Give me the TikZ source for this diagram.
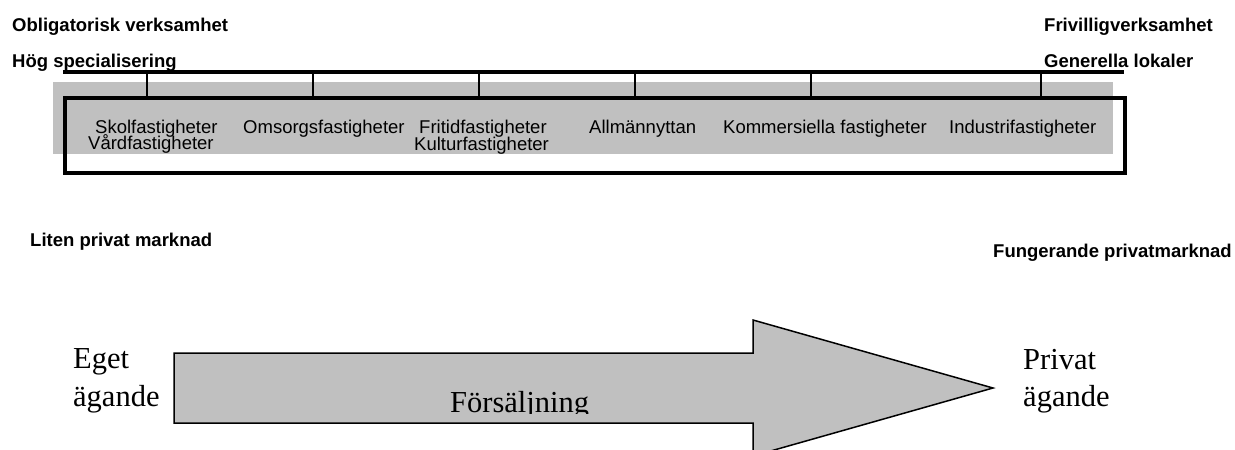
\documentclass[tikz,border=0pt]{standalone}
\usepackage{fontspec}
\setmainfont{Liberation Serif}
\newfontfamily\arialf{Liberation Sans}
\definecolor{bandgray}{RGB}{192,192,192}
\tikzset{
  headlbl/.style={inner sep=0pt, anchor=base west, font=\arialf\bfseries\fontsize{18.5}{20}\selectfont},
  cattxt/.style={inner sep=0pt, anchor=base west, font=\arialf\fontsize{18.5}{20}\selectfont},
  serifl/.style={inner sep=0pt, anchor=base west, font=\fontsize{30.5}{37}\selectfont},
  thickln/.style={line width=4pt, line cap=rect},
  tickln/.style={line width=2pt},
}
\begin{document}
\begin{tikzpicture}[x=1pt,y=-1pt]
\useasboundingbox (0,0) rectangle (1235,450);
\clip (0,0) rectangle (1235,450);
% gray band
\fill[bandgray] (53,82) rectangle (1113,154);
% labels in band
\node[cattxt] (skol) at (95,133) {Skolfastigheter};
\node[cattxt] (vard) at (88,149) {Vårdfastigheter};
\node[cattxt] (omsorg) at (243,133) {Omsorgsfastigheter};
\node[cattxt] (fritid) at (419,133) {Fritidfastigheter};
\node[cattxt] (kultur) at (414,150) {Kulturfastigheter};
\node[cattxt] (allm) at (589,133) {Allmännyttan};
\node[cattxt] (komm) at (723,133) {Kommersiella fastigheter};
\node[cattxt] (indu) at (949,133) {Industrifastigheter};
% header labels
\node[headlbl] (oblig) at (12,31) {Obligatorisk verksamhet};
\node[headlbl] (hog) at (12,67) {Hög specialisering};
\node[headlbl] (friv) at (1044,31) {Frivilligverksamhet};
\node[headlbl] (gen) at (1044,67) {Generella lokaler};
\node[headlbl] (liten) at (30,246) {Liten privat marknad};
\node[headlbl] (fung) at (993,257) {Fungerande privatmarknad};
% box and scale line
\draw[thickln] (65,98) rectangle (1125,173);
\coordinate (sl) at (63,72);
\coordinate (sr) at (1124,72);
\draw[thickln, line cap=butt] (sl) -- (sr);
\foreach \xx in {147,313,479,635,811,1041}{
  \draw[tickln] (\xx,72) -- (\xx,98);
}
% arrow
\draw[fill=bandgray, line width=1.5pt, line join=miter]
  (174,353) -- (753,353) -- (753,320) -- (993,388) -- (753,456) -- (753,423) -- (174,423) -- cycle;
\begin{scope}
\clip (0,0) rectangle (1235,413);
\node[serifl] (fors) at (450,412) {Försäljning};
\end{scope}
\node[serifl] (eget1) at (73,368) {Eget};
\node[serifl] (eget2) at (73,406) {ägande};
\node[serifl] (priv1) at (1023,369) {Privat};
\node[serifl] (priv2) at (1023,406) {ägande};
\end{tikzpicture}
\end{document}
